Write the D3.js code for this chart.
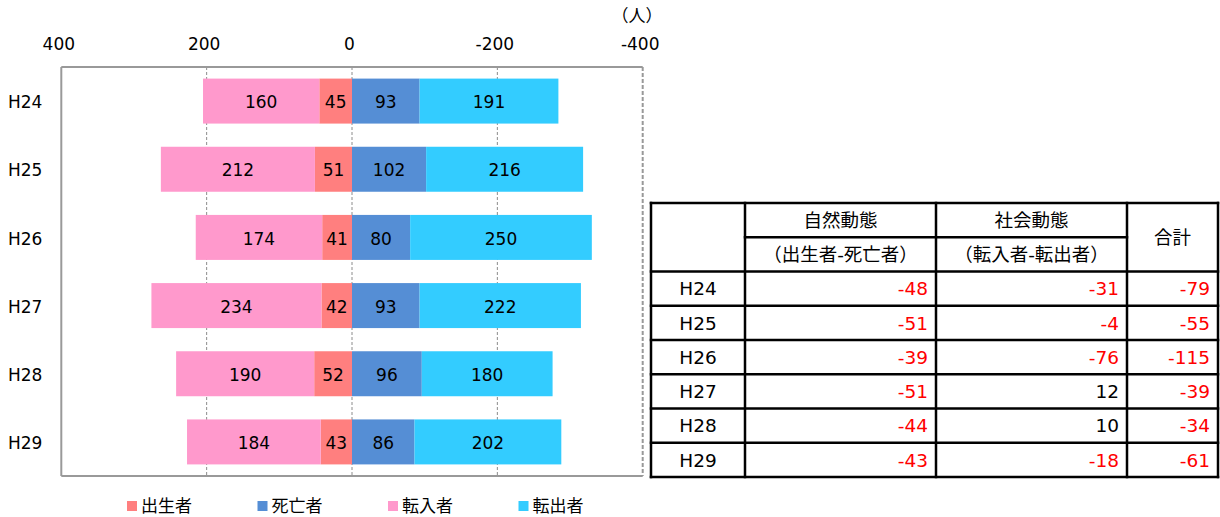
<!DOCTYPE html>
<html><head><meta charset="utf-8">
<script src="https://cdn.jsdelivr.net/npm/d3@7"></script>
<style>
body{margin:0;background:#fff;}
text{font-family:"DejaVu Sans","Noto Sans CJK JP",sans-serif;}
</style></head>
<body><svg id="c" width="1220" height="517"></svg>
<script>
// ---- data ----
const years = ["H24","H25","H26","H27","H28","H29"];
const births = [45, 51, 41, 42, 52, 43];        // 出生者
const deaths = [93, 102, 80, 93, 96, 86];       // 死亡者
const movedIn = [160, 212, 174, 234, 190, 184]; // 転入者
const movedOut = [191, 216, 250, 222, 180, 202];// 転出者
const tickValues = [400, 200, 0, -200, -400];
const seriesNames = ["出生者","死亡者","転入者","転出者"];
const seriesColors = ["#FF7F7F","#558ED5","#FF99CC","#33CCFF"];
// table
const natural = [-48, -51, -39, -51, -44, -43];
const social = [-31, -4, -76, 12, 10, -18];
const total = [-79, -55, -115, -39, -34, -61];

const svg = d3.select("#c");
const font = 17;
const tfont = 18.5;

// ---- chart ----
const plot = {l: 61.3, r: 642.7, t: 67, b: 476};
const x = d3.scaleLinear().domain([400, -400]).range([plot.l, plot.r]);
const y = d3.scaleBand().domain(years).range([plot.t, plot.b]).paddingInner(0.34).paddingOuter(0.17);

// gridlines
svg.append("g").selectAll("line").data(tickValues.filter(v => v !== 400 && v !== -400))
  .join("line").attr("x1", d => x(d)).attr("x2", d => x(d)).attr("y1", plot.t).attr("y2", plot.b)
  .attr("stroke", "#8c8c8c").attr("stroke-width", 1).attr("stroke-dasharray", "3,2");

// box
svg.append("line").attr("x1", plot.l).attr("x2", plot.r).attr("y1", plot.t).attr("y2", plot.t).attr("stroke", "#999").attr("stroke-width", 2);
svg.append("line").attr("x1", plot.l).attr("x2", plot.r).attr("y1", plot.b).attr("y2", plot.b).attr("stroke", "#999").attr("stroke-width", 2);
svg.append("line").attr("x1", plot.l).attr("x2", plot.l).attr("y1", plot.t).attr("y2", plot.b).attr("stroke", "#999").attr("stroke-width", 2);
svg.append("line").attr("x1", plot.r).attr("x2", plot.r).attr("y1", plot.t).attr("y2", plot.b).attr("stroke", "#999").attr("stroke-width", 2).attr("stroke-dasharray", "4,2");

// axis tick labels
const axis = d3.axisTop(x).tickValues(tickValues).tickSize(0).tickPadding(0).tickFormat(d => String(d));
const ag = svg.append("g").attr("transform", `translate(0,${50})`).call(axis);
ag.select(".domain").remove();
ag.selectAll("text").attr("font-size", font).attr("fill", "#000")
  .style("font-family", '"DejaVu Sans","Noto Sans CJK JP",sans-serif').attr("dx", -3);

svg.append("text").attr("x", 637).attr("y", 22).attr("text-anchor", "middle")
  .attr("font-size", 17).text("（人）");

// bars
const segs = [];
years.forEach((yr, i) => {
  segs.push({yr, s: 0, x0: 0, x1: births[i], v: births[i]});
  segs.push({yr, s: 2, x0: births[i], x1: births[i] + movedIn[i], v: movedIn[i]});
  segs.push({yr, s: 1, x0: 0, x1: -deaths[i], v: deaths[i]});
  segs.push({yr, s: 3, x0: -deaths[i], x1: -deaths[i] - movedOut[i], v: movedOut[i]});
});
svg.append("g").selectAll("rect").data(segs).join("rect")
  .attr("x", d => Math.min(x(d.x0), x(d.x1)))
  .attr("width", d => Math.abs(x(d.x1) - x(d.x0)))
  .attr("y", d => y(d.yr)).attr("height", y.bandwidth())
  .attr("fill", d => seriesColors[d.s]);
svg.append("g").selectAll("text").data(segs).join("text")
  .attr("x", d => (x(d.x0) + x(d.x1)) / 2)
  .attr("y", d => y(d.yr) + y.bandwidth() / 2 + 1)
  .attr("dy", "0.36em").attr("text-anchor", "middle").attr("font-size", font)
  .text(d => d.v);

// category labels
svg.append("g").selectAll("text").data(years).join("text")
  .attr("x", 8).attr("y", d => y(d) + y.bandwidth() / 2 + 1).attr("dy", "0.36em")
  .attr("font-size", font).text(d => d);

// legend
const lg = svg.append("g").selectAll("g").data(seriesNames).join("g")
  .attr("transform", (d, i) => `translate(${127 + i * 130.5},501)`);
lg.append("rect").attr("width", 10).attr("height", 10).attr("fill", (d, i) => seriesColors[i]);
lg.append("text").attr("x", 14).attr("y", 5).attr("dy", "0.36em").attr("font-size", 17).text(d => d);

// ---- table ----
const cx = [651, 745, 936, 1127, 1218];
const ry = d3.range(9).map(i => 203 + i * 34.25);
const tg = svg.append("g");
const lw = 2.5;
const ln = (x1, y1, x2, y2) => tg.append("line").attr("x1", x1).attr("y1", y1).attr("x2", x2).attr("y2", y2)
  .attr("stroke", "#000").attr("stroke-width", lw).attr("stroke-linecap", "square");
// horizontals
ln(cx[0], ry[0], cx[4], ry[0]);
ln(cx[1], ry[1], cx[3], ry[1]);
for (let i = 2; i <= 8; i++) ln(cx[0], ry[i], cx[4], ry[i]);
// verticals
cx.forEach(xx => ln(xx, ry[0], xx, ry[8]));

const tt = (xx, yy, s, anchor, color) => tg.append("text").attr("x", xx).attr("y", yy).attr("dy", "0.36em")
  .attr("text-anchor", anchor).attr("font-size", tfont).attr("fill", color || "#000").text(s);
tt((cx[1] + cx[2]) / 2, (ry[0] + ry[1]) / 2, "自然動態", "middle");
tt((cx[2] + cx[3]) / 2, (ry[0] + ry[1]) / 2, "社会動態", "middle");
tt((cx[1] + cx[2]) / 2, (ry[1] + ry[2]) / 2, "（出生者-死亡者）", "middle");
tt((cx[2] + cx[3]) / 2, (ry[1] + ry[2]) / 2, "（転入者-転出者）", "middle");
tt((cx[3] + cx[4]) / 2, (ry[0] + ry[2]) / 2, "合計", "middle");
years.forEach((yr, i) => {
  const yy = (ry[i + 2] + ry[i + 3]) / 2;
  tt((cx[0] + cx[1]) / 2, yy, yr, "middle");
  [natural[i], social[i], total[i]].forEach((v, j) => {
    tt(cx[j + 2] - 8, yy, v, "end", v < 0 ? "#FF0000" : "#000");
  });
});
</script></body></html>
